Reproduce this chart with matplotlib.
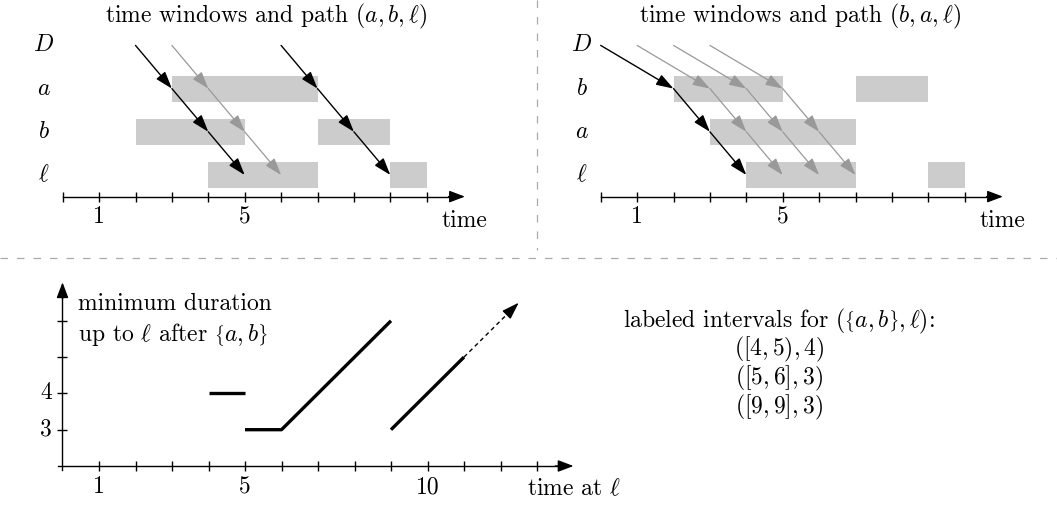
import matplotlib
matplotlib.use('Agg')
import matplotlib.pyplot as plt
from matplotlib.lines import Line2D

plt.rcParams['font.family'] = 'serif'
plt.rcParams['font.serif'] = ['cmr10']
plt.rcParams['mathtext.fontset'] = 'cm'
plt.rcParams['axes.unicode_minus'] = False
plt.rcParams['font.size'] = 17

W, H = 1057, 509

# time windows of the three nodes
times = list(range(11))
win_a = [(3, 7)]
win_b = [(2, 5), (7, 9)]
win_l = [(4, 7), (9, 10)]

# rows from top to bottom
rows_left = ['D', 'a', 'b', 'l']
rows_right = ['D', 'b', 'a', 'l']
row_tex = {'D': '$D$', 'a': '$a$', 'b': '$b$', 'l': r'$\ell$'}

# departure times at each row of the path
paths_left = [[2, 3, 4, 5], [3, 4, 5, 6], [6, 7, 8, 9]]
colors_left = ['black', 'gray', 'black']
paths_right = [[0, 2, 3, 4], [1, 3, 4, 5], [2, 4, 5, 6], [3, 5, 6, 7]]
colors_right = ['black', 'gray', 'gray', 'gray']

# minimum duration function
dur_x1, dur_y1 = [4, 5], [4, 4]
dur_x2, dur_y2 = [5, 6, 9], [3, 3, 6]
dur_x3, dur_y3 = [9, 11], [3, 5]
tail_x, tail_y = [11, 12.5], [5, 6.5]
bottom_xticks = list(range(1, 14))
bottom_yticks = [3, 4, 5, 6]
intervals = ['$([4,5),4)$', '$([5,6],3)$', '$([9,9],3)$']

fig = plt.figure(figsize=(W / 100, H / 100), dpi=100)


def place(x0, dx, y0, dy):
    # axes over whole figure, data unit mapped to pixels
    ax = fig.add_axes([0, 0, 1, 1])
    ax.set_xlim(-x0 / dx, (W - x0) / dx)
    ax.set_ylim((y0 - H) / dy, y0 / dy)
    ax.set_facecolor('none')
    for s in ['top', 'right', 'left', 'bottom']:
        ax.spines[s].set_visible(False)
    return ax


def head(ax, xy, xytext, color='black', lw=1.0, hl=1.05, hw=0.35):
    ax.annotate('', xy=xy, xytext=xytext,
                arrowprops=dict(arrowstyle=f'-|>,head_length={hl},head_width={hw}',
                                color=color, lw=lw, shrinkA=0, shrinkB=0,
                                mutation_scale=10), zorder=3)


def window_panel(ax, rows, paths, colors, title, title_x):
    ypos = {name: len(rows) - i for i, name in enumerate(rows)}
    windows = {'a': win_a, 'b': win_b, 'l': win_l}
    for name in rows[1:]:
        for s, e in windows[name]:
            ax.barh(ypos[name], e - s, left=s, height=0.6, color='#cccccc', zorder=1)
    for name in rows:
        ax.text(-0.52, ypos[name], row_tex[name], ha='center', va='center')
    for path, c in zip(paths, colors):
        col = '#999999' if c == 'gray' else 'black'
        for k in range(len(path) - 1):
            head(ax, (path[k + 1], ypos[rows[k + 1]]), (path[k], ypos[rows[k]]),
                 color=col, lw=1.0 if c == 'black' else 0.9)
    sp = ax.spines['bottom']
    sp.set_visible(True)
    sp.set_position(('data', 0.5))
    sp.set_bounds(0, 10.8)
    sp.set_linewidth(1.0)
    ax.set_xticks(times)
    ax.set_yticks([])
    ax.tick_params(axis='x', direction='inout', length=7.5, width=1.0, labelbottom=False)
    head(ax, (11.05, 0.5), (10.6, 0.5), hl=0.95, hw=0.36)
    for t in [1, 5]:
        ax.text(t, 0.02, str(t), ha='center', va='center')
    ax.text(11.05, -0.066, 'time', ha='center', va='center')
    ax.text(title_x, 4.66, title, ha='center', va='center')


ax1 = place(62.7, 36.4, 218.2, 43.2)
window_panel(ax1, rows_left, paths_left, colors_left,
             r'time windows and path $(a,b,\ell)$', 5.6)

ax2 = place(600.7, 36.4, 218.2, 43.2)
window_panel(ax2, rows_right, paths_right, colors_right,
             r'time windows and path $(b,a,\ell)$', 5.475)

# bottom chart
ax3 = place(62.5, 36.5, 538.6, 36.3)
for s, pos, lo, hi in [('bottom', 2, -0.12, 13.8), ('left', 0, 1.88, 6.85)]:
    ax3.spines[s].set_visible(True)
    ax3.spines[s].set_position(('data', pos))
    ax3.spines[s].set_bounds(lo, hi)
    ax3.spines[s].set_linewidth(1.0)
ax3.set_xticks(bottom_xticks)
ax3.set_yticks(bottom_yticks)
ax3.tick_params(direction='inout', length=7.5, width=1.0,
                labelbottom=False, labelleft=False)
head(ax3, (14, 2), (13.5, 2), hl=0.95, hw=0.36)
head(ax3, (0, 7.06), (0, 6.6), hl=0.95, hw=0.36)

ax3.plot(dur_x1, dur_y1, color='black', lw=2.4, solid_capstyle='butt')
ax3.plot(dur_x2, dur_y2, color='black', lw=2.4, solid_capstyle='butt')
ax3.plot(dur_x3, dur_y3, color='black', lw=2.4, solid_capstyle='butt')
ax3.plot([tail_x[0], tail_x[1] - 0.3], [tail_y[0], tail_y[1] - 0.3],
         color='black', lw=1.0, ls=(0, (3, 2.5)))
head(ax3, (tail_x[1], tail_y[1]), (tail_x[1] - 0.3, tail_y[1] - 0.3))

for t in [1, 5, 10]:
    ax3.text(t, 1.41, str(t), ha='center', va='center')
for v in [3, 4]:
    ax3.text(-0.45, v, str(v), ha='center', va='center')
ax3.text(14, 1.37, r'time at $\ell$', ha='center', va='center')
ax3.text(0.43, 6.46, 'minimum duration', ha='left', va='center')
ax3.text(0.43, 5.61, r'up to $\ell$ after $\left\{a,b\right\}$', ha='left', va='center')

label_block = '\n'.join([r'labeled intervals for $(\left\{a,b\right\},\ell)$:'] + intervals)
fig.text(779 / W, 1 - 364 / H, label_block, ha='center', va='center',
         multialignment='center', linespacing=0.98)

# separators
fig.add_artist(Line2D([537 / W, 537 / W], [1, 1 - 250 / H], color='#aaaaaa',
                      lw=0.9, dashes=(6, 7.2)))
fig.add_artist(Line2D([0, 1], [1 - 257.7 / H, 1 - 257.7 / H], color='#aaaaaa',
                      lw=0.9, dashes=(6, 7.2)))

fig.savefig('out.png', dpi=100)
